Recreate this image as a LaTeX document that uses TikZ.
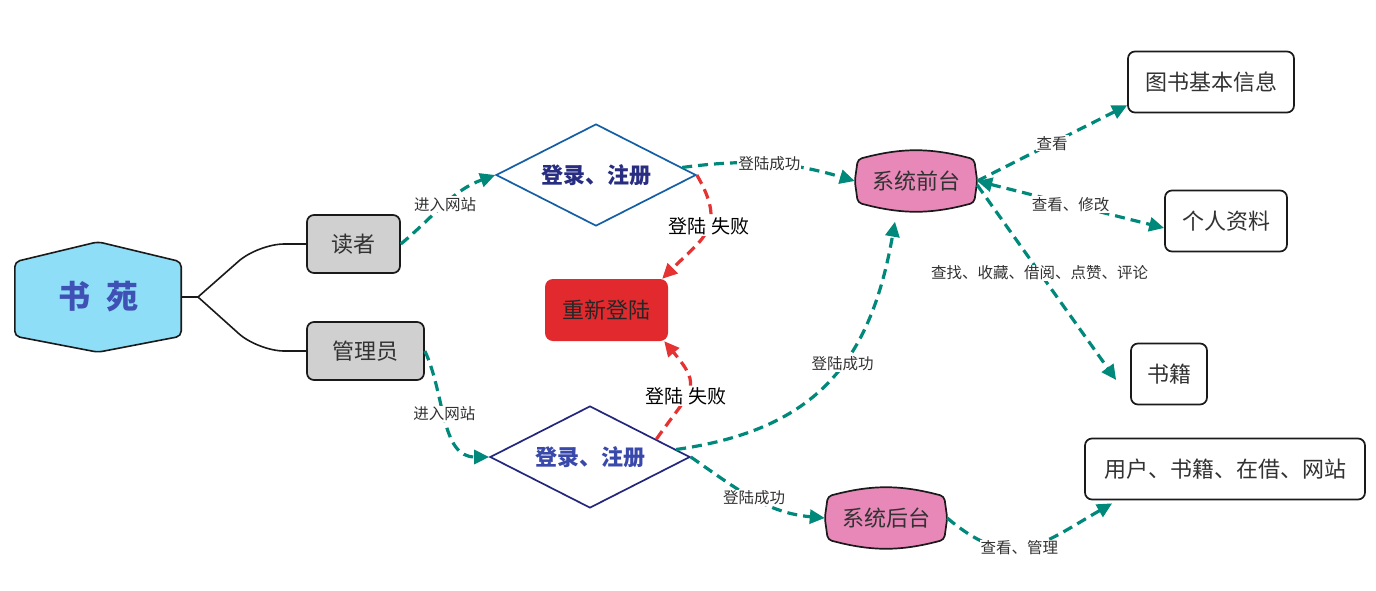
\documentclass[tikz,border=0pt]{standalone}
\usepackage{fontspec}
\setmainfont{Noto Sans CJK SC}
\usepackage{tikz}
\usetikzlibrary{shapes.geometric, arrows.meta, calc, backgrounds}
\usepackage{xcolor}
\definecolor{flowteal}{RGB}{0,137,123}
\definecolor{failred}{RGB}{229,50,50}
\definecolor{hubfill}{RGB}{142,222,248}
\definecolor{hubtext}{RGB}{63,81,181}
\definecolor{rolegray}{RGB}{208,208,208}
\definecolor{edgedark}{RGB}{26,26,26}
\definecolor{portalpink}{RGB}{232,136,184}
\definecolor{retryred}{RGB}{226,42,46}
\definecolor{loginblue}{RGB}{19,94,165}
\definecolor{loginnavy}{RGB}{35,38,125}
\definecolor{labelgray}{RGB}{50,50,50}
\tikzset{
    hub/.style={minimum width=166pt, minimum height=110pt, text=hubtext, font=\bfseries\fontsize{32}{34}\selectfont},
    hubshape/.style={draw=edgedark, fill=hubfill, line width=1.6pt, rounded corners=5pt},
    branch/.style={draw=edgedark, line width=1.6pt, rounded corners=26pt},
    rolebox/.style={draw=edgedark, fill=rolegray, line width=1.7pt, rounded corners=7pt, minimum height=58pt, text=labelgray, font=\fontsize{22}{24}\selectfont},
    leafbox/.style={draw=edgedark, fill=white, line width=1.7pt, rounded corners=7pt, minimum height=61pt, text=labelgray, font=\fontsize{22}{24}\selectfont},
    decision/.style={diamond, aspect=2, minimum width=200pt, minimum height=102pt, inner sep=0pt, line width=1.7pt, fill=white, font=\bfseries\fontsize{22}{24}\selectfont},
    retrybox/.style={fill=retryred, rounded corners=8pt, minimum width=123pt, minimum height=62pt, text=black!85, font=\fontsize{22}{24}\selectfont},
    portal/.style={minimum width=116pt, minimum height=63pt, text=labelgray, font=\fontsize{22}{24}\selectfont},
    portalshape/.style={draw=edgedark, fill=portalpink, line width=1.7pt, rounded corners=4pt},
    flow/.style={draw=flowteal, line width=3.2pt, dash pattern=on 10pt off 6pt, ->},
    fail/.style={draw=failred, line width=3.2pt, dash pattern=on 10pt off 6pt, ->},
    tag/.style={fill=white, inner sep=1pt, text=labelgray, font=\fontsize{15.5}{17}\selectfont},
    failtag/.style={fill=white, inner sep=1pt, text=black, font=\fontsize{19}{21}\selectfont}
}

\begin{document}
\begin{tikzpicture}[x=1pt, y=-1pt, >={Triangle[length=15pt,width=14pt]}]
    \useasboundingbox (0,0) rectangle (1376,590);

    \node[hub] (hub) at (98,297) {书\hspace{16pt}苑};
    \node[rolebox, minimum width=93pt] (reader) at (353.5,244) {读者};
    \node[rolebox, minimum width=117pt] (admin) at (365.5,351) {管理员};
    \node[decision, draw=loginblue, text={rgb,255:red,40;green,45;blue,130}] (login1) at (596,175) {登录、注册};
    \node[decision, draw=loginnavy, text={rgb,255:red,57;green,73;blue,171}] (login2) at (590,457) {登录、注册};
    \node[retrybox] (relogin) at (606.5,310) {重新登陆};
    \node[portal] (front) at (916,181) {系统前台};
    \node[portal] (back) at (886,518) {系统后台};
    \node[leafbox, minimum width=166pt] (info) at (1211,82) {图书基本信息};
    \node[leafbox, minimum width=122pt] (profile) at (1226,221) {个人资料};
    \node[leafbox, minimum width=76pt] (books) at (1169,374) {书籍};
    \node[leafbox, minimum width=280pt] (manage) at (1225,469) {用户、书籍、在借、网站};

    \begin{scope}[on background layer]
        \draw[hubshape] (hub.north) -- ([yshift=-20pt]hub.north east) -- ([yshift=16pt]hub.south east) -- (hub.south) -- ([yshift=16pt]hub.south west) -- ([yshift=-20pt]hub.north west) -- cycle;
        \draw[portalshape] ([xshift=-3pt]front.west) -- ([yshift=-10pt]front.north west) to[bend left=15] ([yshift=-10pt]front.north east) -- ([xshift=3pt]front.east) -- ([yshift=10pt]front.south east) to[bend left=15] ([yshift=10pt]front.south west) -- cycle;
        \draw[portalshape] ([xshift=-3pt]back.west) -- ([yshift=-10pt]back.north west) to[bend left=15] ([yshift=-10pt]back.north east) -- ([xshift=3pt]back.east) -- ([yshift=10pt]back.south east) to[bend left=15] ([yshift=10pt]back.south west) -- cycle;
    \end{scope}

    \coordinate (fork) at (198,297);
    \draw[branch] (hub.east) -- (fork);
    \draw[branch] (fork) -- ($(reader.west)+(-48,0)$) -- (reader.west);
    \draw[branch] (fork) -- ($(admin.west)+(-48,0)$) -- (admin.west);

    \draw[flow] (reader.east) to[out=40, in=200] node[tag] {进入网站} (login1.west);
    \draw[flow] (admin.east) to[out=-65, in=180] node[tag, pos=0.45] {进入网站} (login2.west);
    \draw[flow] (login1.5) to[bend left=12] node[tag] {登陆成功} ([xshift=-3pt]front.west);
    \draw[flow] (login2.5) to[out=8, in=-100, looseness=1.15] node[tag, pos=0.57] {登陆成功} ([xshift=-21pt, yshift=-9pt]front.south);
    \draw[flow] (login2.east) to[out=-35, in=175] node[tag] {登陆成功} ([xshift=-3pt]back.west);
    \draw[fail] (login1.east) to[out=-60, in=45, looseness=1.4] node[failtag, pos=0.45] {登陆\hspace{5pt}失败} ([xshift=-6pt]relogin.north east);
    \draw[fail] (login2.15) to[out=55, in=-50, looseness=1.6] node[failtag, pos=0.4] {登陆\hspace{5pt}失败} ([xshift=-4pt]relogin.south east);

    \draw[flow] ([xshift=3pt]front.east) -- node[tag] {查看} ([yshift=8pt]info.south west);
    \draw[flow, <->] ([xshift=3pt]front.east) -- node[tag] {查看、修改} ([yshift=-7pt]profile.west);
    \draw[flow] ([xshift=3pt, yshift=-4pt]front.east) -- node[tag, pos=0.45] {查找、收藏、借阅、点赞、评论} ([xshift=-14pt, yshift=-6pt]books.west);
    \draw[flow] ([xshift=3pt]back.east) to[out=-40, in=210, looseness=1.3] node[tag, pos=0.45] {查看、管理} ([xshift=28pt, yshift=-3pt]manage.south west);
\end{tikzpicture}
\end{document}
